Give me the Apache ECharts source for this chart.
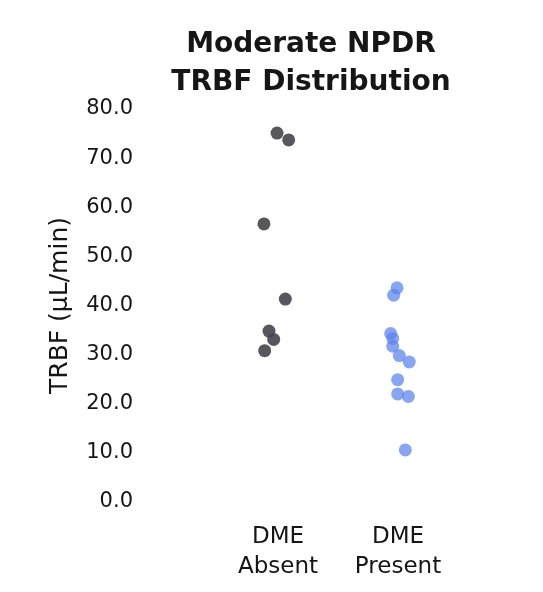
<!DOCTYPE html>
<html>
<head>
<meta charset="utf-8">
<script src="https://cdn.jsdelivr.net/npm/echarts@6/dist/echarts.min.js"></script>
<style>
  html, body { margin: 0; padding: 0; background: #fff; }
  #chart { width: 543px; height: 592px; }
</style>
</head>
<body>
<div id="chart"></div>
<script>
// Groups along the x axis
const categories = ['DME\nAbsent', 'DME\nPresent'];

// TRBF values (µL/min) per group
const dmeAbsent = [75.1, 73.7, 56.6, 41.3, 34.8, 33.1, 30.8];
const dmePresent = [43.6, 42.1, 34.3, 33.3, 31.7, 29.8, 28.5, 24.9, 22.0, 21.5, 10.6];

// Horizontal jitter for each point, in category widths
const jitterAbsent = [-0.008, 0.089, -0.117, 0.061, -0.075, -0.036, -0.111];
const jitterPresent = [-0.008, -0.036, -0.061, -0.044, -0.044, 0.011, 0.094, -0.003, -0.003, 0.086, 0.061];

// Y axis ticks
const yMin = 0, yMax = 80, yStep = 10;

function toPoints(values, jitter, groupIndex) {
  return values.map((v, i) => [groupIndex + 0.5 + jitter[i], v]);
}

const chart = echarts.init(document.getElementById('chart'));
chart.setOption({
  animation: false,
  backgroundColor: '#ffffff',
  title: {
    text: 'Moderate NPDR\nTRBF Distribution',
    left: 306,
    textAlign: 'center',
    top: 21,
    textStyle: {
      fontFamily: 'DejaVu Sans',
      fontWeight: 'bold',
      fontSize: 28,
      lineHeight: 38,
      color: '#161616'
    }
  },
  grid: { left: 218, right: 85, top: 109, bottom: 90 },
  xAxis: [
    {
      type: 'category',
      data: categories,
      axisLine: { show: false },
      axisTick: { show: false },
      splitLine: { show: false },
      axisLabel: {
        margin: 20,
        fontFamily: 'DejaVu Sans',
        fontSize: 23,
        lineHeight: 30,
        color: '#161616'
      }
    },
    {
      type: 'value',
      min: 0,
      max: 2,
      show: false
    }
  ],
  yAxis: {
    type: 'value',
    min: yMin,
    max: yMax,
    interval: yStep,
    name: 'TRBF (\u03bcL/min)',
    nameLocation: 'middle',
    nameGap: 145,
    nameTextStyle: {
      fontFamily: 'DejaVu Sans',
      fontSize: 25,
      color: '#161616'
    },
    axisLine: { show: false },
    axisTick: { show: false },
    splitLine: { show: false },
    axisLabel: {
      margin: 85,
      fontFamily: 'DejaVu Sans',
      fontSize: 21,
      color: '#161616',
      formatter: v => v.toFixed(1)
    }
  },
  series: [
    {
      name: 'DME Absent',
      type: 'scatter',
      xAxisIndex: 1,
      symbolSize: 13,
      itemStyle: { color: '#45454b', opacity: 0.9 },
      data: toPoints(dmeAbsent, jitterAbsent, 0)
    },
    {
      name: 'DME Present',
      type: 'scatter',
      xAxisIndex: 1,
      symbolSize: 13,
      itemStyle: { color: '#5a82ee', opacity: 0.72 },
      data: toPoints(dmePresent, jitterPresent, 1)
    }
  ]
});
</script>
</body>
</html>
